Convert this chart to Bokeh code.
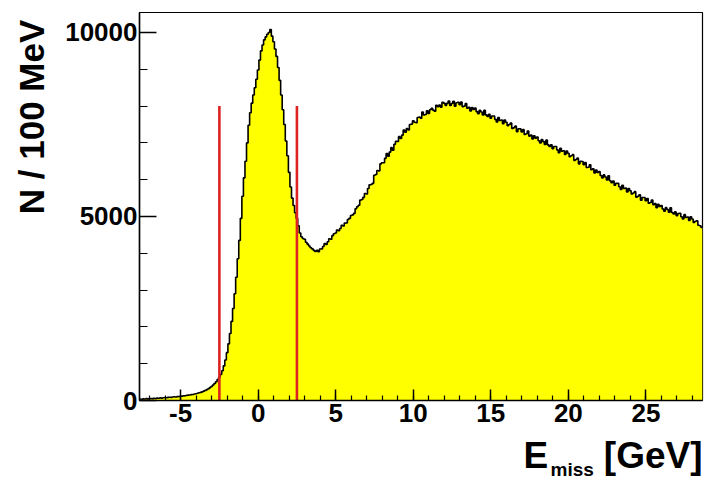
import math
from bokeh.plotting import figure
from bokeh.models import Range1d, SingleIntervalTicker, PrintfTickFormatter
from bokeh.core.properties import value
from bokeh.layouts import column, row
from bokeh.embed import file_html
from bokeh.resources import INLINE

# ---------------- data ----------------
BIN_LO = -7.65      # lower edge of first bin (GeV)
BIN_W = 0.1         # 100 MeV bins

# bin centres -7.6 ... -3.1
counts_tail = [40, 35, 45, 40, 50, 45, 50, 55, 50, 60,
               55, 65, 60, 70, 65, 75, 80, 75, 85, 90,
               85, 95, 100, 95, 105, 110, 115, 120, 125, 130,
               140, 145, 150, 160, 165, 175, 185, 195, 210, 220,
               235, 255, 275, 295, 320, 350]
# bin centres -3.0 ... 3.9
counts_peak = [380, 420, 460, 510, 570, 630, 710, 810, 940, 1100,
               1300, 1540, 1820, 2150, 2500, 2900, 3350, 3850, 4350, 4950,
               5550, 6050, 6500, 7000, 7480, 7820, 8080, 8300, 8500, 8730,
               8980, 9250, 9500, 9660, 9800, 9880, 9950, 10000, 10080, 9900,
               9750, 9550, 9350, 9050, 8700, 8300, 7900, 7500, 7050, 6650,
               6200, 5800, 5500, 5300, 5100, 4950, 4750, 4550, 4450, 4400,
               4380, 4300, 4250, 4200, 4150, 4120, 4080, 4050, 4080, 4040]
# bin centres 4.0 ... 11.9
counts_rise = [4115, 4120, 4185, 4265, 4240, 4315, 4395, 4380, 4480, 4530,
               4550, 4630, 4615, 4675, 4760, 4745, 4820, 4825, 4920, 4950,
               5025, 5045, 5085, 5210, 5265, 5305, 5445, 5460, 5520, 5625,
               5610, 5760, 5860, 5870, 5900, 6120, 6140, 6250, 6240, 6430,
               6460, 6460, 6580, 6710, 6640, 6750, 6870, 6800, 6960, 7040,
               7040, 7170, 7120, 7210, 7350, 7290, 7390, 7350, 7500, 7510,
               7600, 7560, 7550, 7690, 7700, 7670, 7840, 7760, 7770, 7870,
               7800, 7900, 7940, 7890, 7860, 8020, 7980, 8030, 7970, 8105]
# bin centres 12.0 ... 19.9
counts_top = [8080, 8020, 8075, 8140, 8015, 8070, 8130, 7995, 8090, 8105,
              8040, 8110, 7980, 8000, 8070, 7940, 7970, 7865, 7960, 7910,
              7950, 7850, 7790, 7885, 7840, 7760, 7885, 7760, 7720, 7775,
              7670, 7730, 7730, 7640, 7570, 7690, 7610, 7620, 7520, 7620,
              7560, 7470, 7500, 7540, 7390, 7415, 7455, 7305, 7385, 7380,
              7300, 7360, 7230, 7250, 7320, 7185, 7215, 7105, 7195, 7130,
              7160, 7060, 7000, 7090, 7035, 6955, 7075, 6945, 6900, 6950,
              6840, 6900, 6900, 6810, 6735, 6855, 6775, 6785, 6685, 6780]
# bin centres 20.0 ... 28.6
counts_fall = [6720, 6625, 6650, 6680, 6525, 6550, 6585, 6430, 6500, 6495,
               6410, 6465, 6330, 6340, 6405, 6270, 6295, 6180, 6260, 6195,
               6220, 6115, 6050, 6130, 6075, 5990, 6105, 5970, 5920, 5965,
               5850, 5905, 5900, 5810, 5735, 5850, 5765, 5770, 5665, 5760,
               5700, 5610, 5640, 5675, 5525, 5550, 5590, 5440, 5515, 5515,
               5430, 5490, 5360, 5380, 5450, 5320, 5350, 5240, 5330, 5270,
               5300, 5205, 5145, 5240, 5190, 5115, 5235, 5110, 5070, 5125,
               5020, 5080, 5085, 4995, 4930, 5050, 4975, 4985, 4890, 4990,
               4930, 4840, 4870, 4880, 4760, 4750, 4700]

CUT_X = [-2.5, 2.5]     # red cut lines (GeV)
CUT_TOP = 8000

X_TICKS_STEP = 5
Y_TICKS_STEP = 5000
X_LABEL_MAIN = "E"
X_LABEL_SUB = "miss"
X_LABEL_UNIT = "[GeV]"
Y_LABEL = "N / 100 MeV"

# ---------------- build ----------------
counts = counts_tail + counts_peak + counts_rise + counts_top + counts_fall
n = len(counts)
edges = [BIN_LO + i * BIN_W for i in range(n + 1)]
X0, X1 = edges[0], edges[-1]
YMAX = 10543

FONT = "Liberation Sans"
TOTAL_W, TOTAL_H = 706, 480
YLAB_W = 60
MAIN_H = 433
MAIN_W = TOTAL_W - YLAB_W
XLAB_H = TOTAL_H - MAIN_H

# ---- main histogram figure ----
p = figure(width=MAIN_W, height=MAIN_H, output_backend="svg", toolbar_location=None,
           x_range=Range1d(X0, X1), y_range=Range1d(0, YMAX),
           min_border_left=139 - YLAB_W, min_border_right=4,
           min_border_top=12, min_border_bottom=MAIN_H - 400, title=None)
p.background_fill_color = "white"
p.border_fill_color = "white"
p.outline_line_color = "black"
p.outline_line_width = 1.2
p.xgrid.visible = False
p.ygrid.visible = False

step_x = edges
step_y = counts + [counts[-1]]
if hasattr(p, "varea_step"):
    p.varea_step(x=step_x, y1=[0] * len(step_x), y2=step_y, step_mode="after",
                 fill_color="#FFFF00")
else:
    p.quad(left=edges[:-1], right=edges[1:], bottom=0, top=counts,
           fill_color="#FFFF00", line_color="#FFFF00", line_width=0.5)
p.step(x=step_x, y=step_y, mode="after", line_color="black", line_width=1.6)

p.segment(x0=CUT_X, y0=[0, 0], x1=CUT_X, y1=[CUT_TOP, CUT_TOP],
          line_color="#DD2222", line_width=2.6)

for ax, step, tin, mtin in ((p.xaxis[0], X_TICKS_STEP, 11, 5),
                            (p.yaxis[0], Y_TICKS_STEP, 17, 8)):
    ax.ticker = SingleIntervalTicker(interval=step, num_minor_ticks=5)
    ax.formatter = PrintfTickFormatter(format="%d")
    ax.major_tick_in = tin
    ax.major_tick_out = 0
    ax.minor_tick_in = mtin
    ax.minor_tick_out = 0
    ax.major_tick_line_width = 1.5
    ax.minor_tick_line_width = 1.2
    ax.axis_line_width = 1.5
    ax.axis_line_color = "black"
    ax.major_tick_line_color = "black"
    ax.minor_tick_line_color = "black"
    ax.major_label_text_font = FONT
    ax.major_label_text_font_style = "bold"
    ax.major_label_text_font_size = "26px"
    ax.major_label_text_color = "black"
p.xaxis[0].major_label_standoff = 3
p.yaxis[0].major_label_standoff = 2


def blank(w, h):
    f = figure(width=w, height=h, output_backend="svg", toolbar_location=None,
               x_range=Range1d(0, w), y_range=Range1d(0, h), min_border=0,
               x_axis_location=None, y_axis_location=None, title=None)
    f.outline_line_color = None
    f.background_fill_color = "white"
    f.border_fill_color = "white"
    f.xgrid.visible = False
    f.ygrid.visible = False
    return f


# ---- y title (left strip) ----
fy = blank(YLAB_W, MAIN_H)
fy.text(x=[31], y=[MAIN_H - 8], text=[Y_LABEL], angle=math.pi / 2,
        text_align="right", text_baseline="middle", text_font=value(FONT),
        text_font_style="bold", text_font_size="35px", text_color="black")

# ---- x title (bottom strip) ----
fx = blank(TOTAL_W, XLAB_H)
mid = 25
fx.text(x=[523], y=[mid], text=[X_LABEL_MAIN], text_align="left",
        text_baseline="middle", text_font=value(FONT), text_font_style="bold",
        text_font_size="37px", text_color="black")
fx.text(x=[550], y=[11], text=[X_LABEL_SUB], text_align="left",
        text_baseline="middle", text_font=value(FONT), text_font_style="bold",
        text_font_size="19px", text_color="black")
fx.text(x=[702], y=[mid], text=[X_LABEL_UNIT], text_align="right",
        text_baseline="middle", text_font=value(FONT), text_font_style="bold",
        text_font_size="37px", text_color="black")

layout = column(row(fy, p), fx)
open("out.html", "w").write(file_html(layout, INLINE))
